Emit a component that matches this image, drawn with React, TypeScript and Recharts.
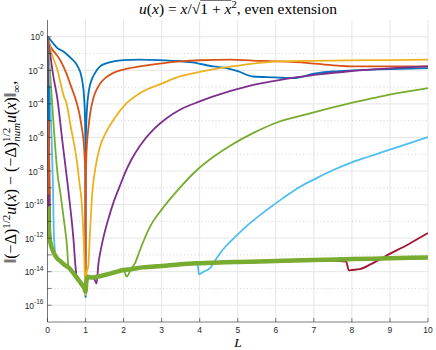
import React from 'react';
import { LineChart, Line, XAxis, YAxis, CartesianGrid, ReferenceLine } from 'recharts';

type Pt = [number, number];

const C = {
  blue: '#0072BD',
  orange: '#D95319',
  yellow: '#EDB120',
  purple: '#7E2F8E',
  green: '#77AC30',
  cyan: '#4DBEEE',
  red: '#A2142F',
};
const AX = '#262626';

const xTicks = [0, 1, 2, 3, 4, 5, 6, 7, 8, 9, 10];
const yTicks = [1e-16, 1e-15, 1e-14, 1e-13, 1e-12, 1e-11, 1e-10, 1e-9, 1e-8, 1e-7, 1e-6, 1e-5, 1e-4, 1e-3, 1e-2, 1e-1, 1e0];
const yMajor = [1e-16, 1e-14, 1e-12, 1e-10, 1e-8, 1e-6, 1e-4, 1e-2, 1e0];
const yMinor = [1e-15, 1e-13, 1e-11, 1e-9, 1e-7, 1e-5, 1e-3, 1e-1];

// round-off floor shared by the converged runs
const floor: Pt[] = [
  [0.04, 1.26e-12], [0.07, 6e-13], [0.1, 3.2e-13], [0.17, 1.26e-13], [0.25, 6.3e-14], [0.35, 4e-14],
  [0.45, 2.5e-14], [0.55, 1.8e-14], [0.65, 1e-14], [0.75, 5e-15], [0.85, 2.5e-15], [0.93, 1.4e-15],
  [0.97, 1e-15], [1.0, 6.3e-16], [1.02, 2.5e-15], [1.06, 5e-15], [1.15, 4.5e-15], [1.3, 5e-15],
  [1.5, 6.3e-15], [1.75, 8.9e-15], [2.0, 1.26e-14], [2.2, 1.4e-14], [2.5, 1.8e-14], [3.0, 2.2e-14],
  [3.5, 2.8e-14], [4.0, 3.2e-14], [4.5, 3.5e-14], [5.0, 3.8e-14], [6.0, 4.3e-14], [7.0, 5e-14],
  [8.0, 5.6e-14], [9.0, 6.3e-14], [10, 7.1e-14],
];

const blue1: Pt[] = [
  [0, 1], [0.04, 0.83], [0.15, 0.4], [0.26, 0.21], [0.4, 0.14], [0.52, 0.085], [0.63, 0.05], [0.74, 0.027],
  [0.82, 0.013], [0.87, 0.0068], [0.92, 0.0019], [0.96, 2.8e-4], [0.985, 1.6e-5], [0.996, 3e-7], [1.0, 3e-16],
  [1.005, 3e-7], [1.02, 8e-6], [1.04, 6.3e-5], [1.07, 3.2e-4], [1.1, 9e-4], [1.16, 2.7e-3], [1.25, 7e-3],
  [1.38, 0.017], [1.56, 0.027], [1.73, 0.034], [2.0, 0.041], [2.4, 0.043], [2.9, 0.041], [3.3, 0.037],
  [3.8, 0.03], [4.36, 0.017], [4.7, 0.0135], [5.0, 0.009], [5.4, 0.0043], [6.0, 0.0038], [6.46, 0.0034],
  [7.0, 0.0063], [7.5, 0.0085], [8.03, 0.01], [9.0, 0.012], [10, 0.0135],
];

const orange1: Pt[] = [
  [0, 1], [0.08, 0.26], [0.2, 0.11], [0.35, 0.035], [0.5, 0.0063], [0.61, 1.26e-3], [0.7, 3.5e-4],
  [0.77, 1.1e-4], [0.83, 3.2e-5], [0.9, 4e-6], [0.96, 2.8e-7], [0.99, 1e-8], [1.0, 6e-16], [1.01, 1e-8],
  [1.04, 5e-7], [1.07, 2.8e-6], [1.12, 2.5e-5], [1.2, 2e-4], [1.29, 7e-4], [1.38, 1.6e-3], [1.55, 4e-3],
  [1.73, 7e-3], [2.0, 0.0112], [2.43, 0.017], [3.0, 0.026], [3.48, 0.034], [4.0, 0.04], [4.8, 0.043],
  [5.4, 0.038], [6.1, 0.034], [6.8, 0.028], [7.4, 0.021], [8.1, 0.017], [9.0, 0.017], [10, 0.017],
];

const yellow1: Pt[] = [
  [0, 1], [0.08, 0.166], [0.26, 0.0107], [0.43, 2.8e-4], [0.5, 1.1e-4], [0.61, 4.5e-6], [0.78, 2.9e-8],
  [0.83, 2.9e-9], [0.9, 1.2e-10], [0.95, 1e-12], [0.985, 3e-15], [1.0, 4e-16], [1.03, 1e-14], [1.07, 2e-14],
  [1.12, 3e-12], [1.18, 6e-10], [1.25, 1.15e-8], [1.38, 2.8e-7], [1.56, 2.5e-6], [1.73, 1.1e-5],
  [2.08, 1.1e-4], [2.43, 4.4e-4], [3.0, 1.6e-3], [3.48, 4.3e-3], [4.0, 8e-3], [4.53, 0.0135], [5.2, 0.022],
  [6.1, 0.034], [7.0, 0.037], [7.86, 0.039], [9.0, 0.041], [10, 0.043],
];

const purpleHead: Pt[] = [
  [0, 1], [0.08, 0.063], [0.15, 5e-3], [0.26, 2e-4], [0.39, 6.3e-7], [0.52, 2.5e-9], [0.61, 4e-11],
  [0.68, 1e-12], [0.74, 1.6e-14], [0.78, 3.2e-15],
];
const purpleTail: Pt[] = [
  [1.22, 4e-15], [1.29, 2e-15], [1.34, 3.2e-14], [1.4, 2e-13], [1.47, 1.1e-12], [1.6, 1.4e-11],
  [1.73, 1.26e-10], [1.9, 1.26e-9], [2.04, 8e-9], [2.2, 4.5e-8], [2.43, 3.2e-7], [2.8, 3.2e-6],
  [3.13, 1.4e-5], [3.48, 4.5e-5], [4.0, 1.4e-4], [4.36, 2.8e-4], [5.23, 1.07e-3], [5.9, 2.2e-3],
  [6.55, 3.9e-3], [7.2, 6e-3], [7.87, 8.5e-3], [9.0, 0.013], [10, 0.017],
];

const greenHead: Pt[] = [
  [0, 1], [0.08, 2.7e-3], [0.17, 2.8e-6], [0.26, 8e-9], [0.35, 3.2e-10], [0.43, 1.26e-11], [0.52, 2e-13],
];
const greenTail: Pt[] = [
  [2.08, 5e-15], [2.2, 1.5e-14], [2.3, 3.2e-14], [2.4, 1.26e-13], [2.52, 6.3e-13], [2.7, 5e-12],
  [3.0, 5e-11], [3.4, 6.3e-10], [3.9, 1e-8], [4.4, 8e-8], [4.8, 3.2e-7], [5.4, 1.8e-6], [6.1, 8.9e-6],
  [6.8, 2.4e-5], [7.42, 5.5e-5], [8.1, 1.3e-4], [8.74, 2.75e-4], [9.4, 5.2e-4], [10, 8.7e-4],
];

const cyanHead: Pt[] = [
  [0, 1], [0.05, 3e-3], [0.1, 2.8e-6], [0.14, 2.9e-9], [0.17, 1.26e-12], [0.24, 5e-14],
];
const cyanTail: Pt[] = [
  [3.94, 3.5e-14], [3.98, 7e-15], [4.1, 1e-14], [4.27, 1.6e-14], [4.4, 4.5e-14], [4.55, 1.4e-13],
  [4.7, 3.5e-13], [4.88, 9e-13], [5.3, 7e-12], [5.76, 4.7e-11], [6.2, 2.5e-10], [6.64, 1.15e-9],
  [7.1, 4e-9], [7.51, 1.15e-8], [8.0, 3.3e-8], [8.39, 6.6e-8], [8.74, 1.2e-7], [9.4, 3.7e-7], [10, 1.05e-6],
];

const redHead: Pt[] = [[0, 1], [0.02, 1e-4], [0.05, 1e-9], [0.08, 1.26e-12], [0.13, 2e-13]];
const redTail: Pt[] = [
  [7.85, 4e-14], [7.92, 1.2e-14], [8.0, 1.26e-14], [8.2, 1.4e-14], [8.5, 2.8e-14], [8.9, 8.9e-14],
  [9.5, 4.5e-13], [10, 2e-12],
];

// converged runs: start value at the first L, then the round-off floor
const lateStarts: { color: string; v: number }[] = [
  { color: C.blue, v: 1.2e-3 },
  { color: C.orange, v: 1e-5 },
  { color: C.yellow, v: 3e-10 },
  { color: C.purple, v: 4e-10 },
  { color: C.green, v: 8e-11 },
];

const between = (a: number, b: number) => floor.filter(([l]) => l > a && l < b);
const toRows = (pts: Pt[]) => pts.map(([L, v]) => ({ L, v }));

const series: { color: string; pts: Pt[]; w?: number }[] = [
  { color: C.blue, pts: blue1 },
  { color: C.orange, pts: orange1 },
  { color: C.yellow, pts: yellow1 },
  { color: C.purple, pts: [...purpleHead, ...between(0.78, 1.22), ...purpleTail] },
  { color: C.green, pts: [...greenHead, ...between(0.52, 2.08), ...greenTail] },
  { color: C.cyan, pts: [...cyanHead, ...between(0.24, 3.94), ...cyanTail] },
  { color: C.red, pts: [...redHead, ...between(0.13, 7.85), ...redTail] },
  ...lateStarts.map((s, i) => ({
    color: s.color,
    pts: [[0.02, s.v] as Pt, ...between(0.02, 10.1)],
    w: i === lateStarts.length - 1 ? 4.5 : 3,
  })),
];

const tickFont = "'Liberation Sans', Arial, sans-serif";
const mathFont = "'Liberation Serif', 'Times New Roman', serif";

function XTick(props: any) {
  const { x, y, payload } = props;
  return (
    <g>
      <line x1={x} y1={y} x2={x} y2={y - 4} stroke={AX} strokeWidth={0.6} />
      <text x={x} y={y + 10.5} textAnchor="middle" fontSize={8.5} fill={AX} fontFamily={tickFont}>{payload.value}</text>
    </g>
  );
}

function XTopTick(props: any) {
  const { x, y } = props;
  return <line x1={x} y1={y} x2={x} y2={y + 4} stroke={AX} strokeWidth={0.6} />;
}

function YTick(props: any) {
  const { x, y, payload } = props;
  const e = Math.round(Math.log10(payload.value));
  return (
    <g>
      <line x1={x} y1={y} x2={x + 4} y2={y} stroke={AX} strokeWidth={0.6} />
      {e % 2 === 0 && (
        <text x={x - 4} y={y + 3.5} textAnchor="end" fontSize={8.5} fill={AX} fontFamily={tickFont}>
          10<tspan dy={-4.5} fontSize={6.5}>{e}</tspan>
        </text>
      )}
    </g>
  );
}

function YRightTick(props: any) {
  const { x, y } = props;
  return <line x1={x} y1={y} x2={x - 4} y2={y} stroke={AX} strokeWidth={0.6} />;
}

export default function App() {
  return (
    <div style={{ position: 'absolute', left: 0, top: 0, width: 436, height: 350, background: '#fff' }}>
      <LineChart width={436} height={350} margin={{ top: 20, right: 8, bottom: 0, left: 0 }}>
        <CartesianGrid horizontal={false} stroke="#e6e6e6" xAxisId="b" yAxisId="y" />
        {yMajor.map((v) => (
          <ReferenceLine key={'M' + v} y={v} yAxisId="y" xAxisId="b" stroke="#e6e6e6" />
        ))}
        {yMinor.map((v) => (
          <ReferenceLine key={'m' + v} y={v} yAxisId="y" xAxisId="b" stroke="#c8c8c8" strokeDasharray="1 2.5" strokeWidth={0.8} />
        ))}
        <XAxis xAxisId="b" type="number" dataKey="L" domain={[0, 10]} ticks={xTicks} height={28}
          axisLine={{ stroke: AX, strokeWidth: 0.6 }} tickLine={false} tickSize={0} tickMargin={0} tick={<XTick />}
          allowDataOverflow />
        <XAxis xAxisId="t" orientation="top" type="number" dataKey="L" domain={[0, 10]} ticks={xTicks} height={0}
          axisLine={{ stroke: AX, strokeWidth: 0.6 }} tickLine={false} tickSize={0} tickMargin={0} tick={<XTopTick />}
          allowDataOverflow />
        <YAxis yAxisId="y" scale="log" type="number" domain={[1e-17, 10]} ticks={yTicks} width={47.5}
          axisLine={{ stroke: AX, strokeWidth: 0.6 }} tickLine={false} tickSize={0} tickMargin={0} tick={<YTick />}
          allowDataOverflow interval={0} />
        <YAxis yAxisId="r" orientation="right" scale="log" type="number" domain={[1e-17, 10]} ticks={yTicks} width={0}
          axisLine={{ stroke: AX, strokeWidth: 0.6 }} tickLine={false} tickSize={0} tickMargin={0} tick={<YRightTick />}
          allowDataOverflow interval={0} />
        {series.map((s, i) => (
          <Line key={i} xAxisId="b" yAxisId="y" data={toRows(s.pts)} dataKey="v" type="monotoneX"
            stroke={s.color} strokeWidth={s.w ?? 1.8} dot={false} isAnimationActive={false} />
        ))}
      </LineChart>
      <svg width={436} height={350} style={{ position: 'absolute', left: 0, top: 0, pointerEvents: 'none' }}>
        <text x={238} y={14} textAnchor="middle" fontFamily={mathFont} fontSize={15.5} fill="#000">
          <tspan fontStyle="italic">u</tspan>(<tspan fontStyle="italic">x</tspan>) = <tspan fontStyle="italic">x</tspan>/√
          <tspan style={{ textDecoration: 'overline' }}>1 + <tspan fontStyle="italic">x</tspan></tspan>
          <tspan dy={-6} fontSize={10.5}>2</tspan><tspan dy={6}>, even extension</tspan>
        </text>
        <text transform="translate(16,172) rotate(-90)" textAnchor="middle" fontFamily={mathFont} fontSize={16} fill="#000">
          ‖(−Δ)<tspan dy={-6} fontSize={11}>1/2</tspan>
          <tspan dy={6} fontStyle="italic">u</tspan>(<tspan fontStyle="italic">x</tspan>) − (−Δ)
          <tspan dy={-6} fontSize={11}>1/2</tspan>
          <tspan dx={-14} dy={10} fontSize={11} fontStyle="italic">num</tspan>
          <tspan dy={-4} fontStyle="italic">u</tspan>(<tspan fontStyle="italic">x</tspan>)‖
          <tspan dy={4} fontSize={11}>∞</tspan><tspan dy={-4}>,</tspan>
        </text>
        <text x={238} y={346.5} textAnchor="middle" fontFamily={mathFont} fontSize={13.5} fontStyle="italic" fill="#000">L</text>
      </svg>
    </div>
  );
}
